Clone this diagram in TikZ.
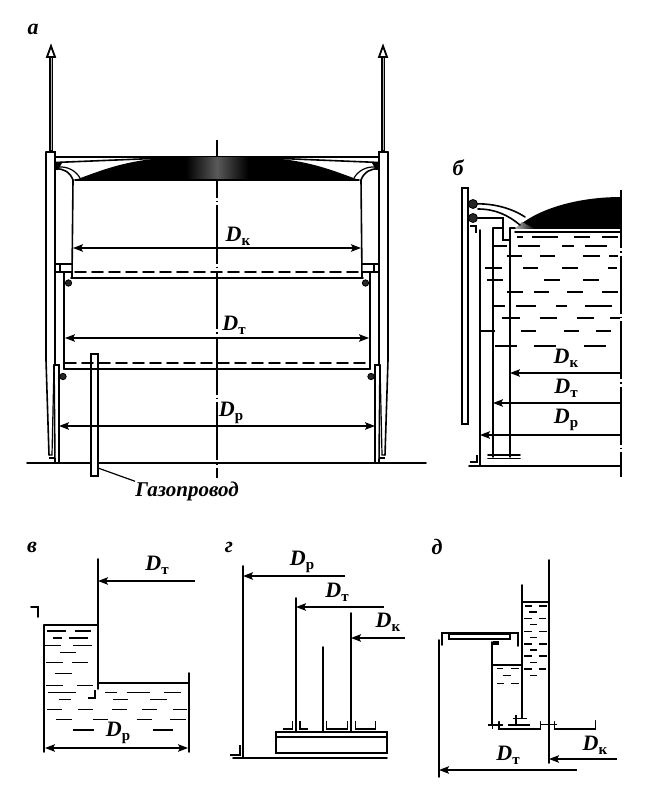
\documentclass[tikz,border=0pt]{standalone}
\usepackage{fontspec}
\setmainfont{Liberation Serif}
\usetikzlibrary{arrows.meta}

\tikzset{
    wall/.style={line width=1.6pt, line cap=round},
    thinwall/.style={line width=1.2pt},
    liquid/.style={line width=1.1pt},
    axisline/.style={line width=1.1pt, dash pattern=on 58pt off 3pt on 1.5pt off 3pt},
    dimline/.style={line width=1.2pt, -{Stealth[length=10pt, width=7.5pt, inset=2pt]}},
    dimboth/.style={line width=1.2pt, {Stealth[length=10pt, width=7.5pt, inset=2pt]}-{Stealth[length=10pt, width=7.5pt, inset=2pt]}},
    dimlabel/.style={inner sep=0pt, font=\fontsize{22}{24}\selectfont\bfseries\itshape},
    panel/.style={inner sep=0pt, font=\fontsize{22}{24}\selectfont\bfseries\itshape},
    roller/.style={fill=black!85, draw=black, line width=0.8pt}
}
\newcommand{\dsub}[1]{D\raisebox{-4pt}{\fontsize{15}{15}\selectfont\upshape\bfseries #1}}

\begin{document}
\begin{tikzpicture}[x=1pt, y=-1pt]
    \useasboundingbox (0,0) rectangle (650,794);

    % a
    \node[panel] (laba) at (33,29) {а};
    \draw[wall] (27,463) -- (426,463);
    \draw[axisline] (217,140) -- (217,478);
    \foreach \side in {1,-1} {
        \begin{scope}[shift={(217,0)}, xscale=\side, shift={(-217,0)}]
            % mast
            \draw[line width=4.4pt] (51,152) -- (51,56);
            \draw[line width=0.8pt, gray!60] (51,150) -- (51,58);
            \draw[line width=1.8pt, fill=white] (47,57) -- (51,46) -- (55,57) -- cycle;
            % column
            \draw[wall] (46,152) -- (55,152) -- (55,365);
            \draw[wall] (46,152) -- (46,360) -- (49,455);
            \draw[thinwall] (54,365) -- (52,455) -- (49,455);
            \draw[wall] (54,365) -- (59,365) -- (59,463);
            \draw[wall] (54,365) -- (55,463);
            \draw[thinwall] (49,458) -- (54,458);
            % dome
            \fill[black] (75,180) .. controls (100,171) and (125,160) .. (170,157.5) -- (217.4,157) -- (217.4,180) -- cycle;
            \draw[wall] (55,157) -- (217.4,157);
            \draw[wall] (55,162.5) -- (165,158);
            \draw[wall] (75,180) -- (217.4,180);
            % top seal
            \draw[thinwall] (57,167) .. controls (68,166) and (76,171) .. (80,178);
            \draw[wall] (55,169) .. controls (63,168) and (70,172) .. (73,180);
            \fill (55,163) -- (62,163) -- (58,170) -- (55,170) -- cycle;
            % bell and middle section
            \draw[wall] (73,180) -- (72,278);
            \draw[wall] (55,264) -- (72,264);
            \draw[wall] (55,272) -- (72,272);
            \draw[thinwall] (60,264) -- (60,272);
            \draw[wall] (64,272) -- (64,369);
            \draw[roller] (68.5,283) circle (3.2);
            \draw[roller] (63,376.5) circle (3.2);
        \end{scope}
    }
    \shade[left color=black, right color=black, middle color=black!65] (186,158) rectangle (248,179);
    \draw[wall] (71,278) -- (363,278);
    \draw[wall, dash pattern=on 11pt off 6pt] (75,272) -- (359,272);
    \draw[wall, fill=white] (91,354) rectangle (98,476);
    \draw[wall] (64,369) -- (370,369);
    \draw[wall, dash pattern=on 11pt off 6pt] (65,363) -- (370,363);
    \draw[dimboth] (73,248) -- (361,248);
    \draw[dimboth] (65,338) -- (369,338);
    \draw[dimboth] (59,426) -- (375,426);
    \node[dimlabel] (dka) at (238,236) {\dsub{к}};
    \node[dimlabel] (dta) at (234,325) {\dsub{т}};
    \node[dimlabel] (dpa) at (231,413) {\dsub{р}};
    \node[inner sep=0pt, font=\fontsize{21}{24}\selectfont\bfseries\itshape] (gas) at (187,491) {Газопровод};
    \coordinate (gasend) at (98,468);
    \draw[thinwall] (gasend) -- (gas.north west);

    % b
    \node[panel] (labb) at (458,168) {б};
    \draw[wall] (462,188) rectangle (468,424);
    \draw[wall] (469,466) -- (621,466);
    \draw[axisline] (621,190) -- (621,477);
    \draw[wall] (480,230) -- (480,466);
    \draw[wall] (493,228) -- (493,457);
    \draw[wall] (510,228) -- (510,457);
    \draw[wall] (488,455) -- (520,455);
    \draw[wall] (488,458.5) -- (520,458.5);
    \draw[thinwall] (470,462) -- (477,462) -- (477,455);
    \draw[thinwall] (470,226) -- (476,226) -- (476,233);
    \fill[black] (515,229) .. controls (535,210) and (575,197) .. (621.5,197) -- (621.5,229) -- cycle;
    \shade[left color=gray!60, right color=black] (515,229) -- (522,222) -- (535,229) -- cycle;
    \draw[wall] (515,232) -- (621,232);
    \draw[wall] (478,218) -- (503,218) -- (503,240) -- (510,240);
    \draw[wall] (493,228) -- (503,228);
    \draw[wall] (473,204) .. controls (490,203) and (510,207) .. (525,217);
    \draw[wall] (478,209) .. controls (495,209) and (508,215) .. (520,225);
    \draw[wall] (510,228) -- (515,228);
    \draw[roller] (473,204) circle (4.5);
    \draw[roller] (473,218) circle (4.5);
    \foreach \y/\a/\b in {237/517/523, 237/532/558, 237/574/590, 237/602/618,
        246/494/507, 246/518/540, 246/562/574, 246/585/607,
        256/507/522, 256/540/555, 256/583/600, 256/609/618,
        268/485/502, 268/523/538, 268/562/578, 268/608/617,
        280/487/503, 280/544/560, 280/583/599,
        292/507/523, 292/534/549, 292/567/583, 292/602/618,
        306/493/505, 306/516/536, 306/556/567, 306/585/612,
        318/502/520, 318/540/557, 318/577/594, 318/610/620,
        331/480/495, 331/521/536, 331/564/579, 331/596/611,
        346/495/517, 346/534/556, 346/584/606}
        \draw[liquid] (\a,\y) -- (\b,\y);
    \draw[dimline] (621,373) -- (510,373);
    \draw[dimline] (621,403) -- (493,403);
    \draw[dimline] (621,435) -- (480,435);
    \node[dimlabel] (dkb) at (566,358) {\dsub{к}};
    \node[dimlabel] (dtb) at (566,388) {\dsub{т}};
    \node[dimlabel] (dpb) at (566,420) {\dsub{р}};

    % v
    \node[panel] (labv) at (32,547) {в};
    \draw[wall] (31,607) -- (38,607) -- (38,617);
    \draw[wall] (44,625) -- (44,752);
    \draw[wall] (98,559) -- (98,689);
    \draw[wall] (44,625) -- (98,625);
    \draw[wall] (98,683) -- (189,683);
    \draw[wall] (189,673) -- (189,752);
    \draw[thinwall] (88,698) -- (95,698) -- (95,690);
    \begin{scope}[shift={(20,530)}, x=0.3333pt, y=-0.3333pt]
        \foreach \y/\a/\b in {303/80/137, 303/165/212, 324/100/127, 324/148/203,
            347/75/122, 347/160/215, 368/120/168, 398/78/128, 398/155/203, 430/105/155,
            467/78/130, 467/170/218, 487/85/168, 487/255/290, 487/320/390, 487/432/483,
            508/118/152, 508/280/325, 508/390/442,
            538/80/127, 538/175/220, 538/277/320, 538/367/412, 538/458/500,
            568/108/155, 568/220/265, 568/350/395, 568/450/497, 600/160/222, 600/400/458}
            \draw[liquid] (\a,\y) -- (\b,\y);
    \end{scope}
    \draw[dimline] (195,581) -- (98,581);
    \draw[dimboth] (45,748) -- (188,748);
    \node[dimlabel] (dtv) at (157,565) {\dsub{т}};
    \node[dimlabel] (dpv) at (118,733) {\dsub{р}};

    % g
    \node[panel] (labg) at (229,547) {г};
    \draw[wall] (243,566) -- (243,758);
    \draw[wall] (296,598) -- (296,732);
    \draw[wall] (323,647) -- (323,732);
    \draw[wall] (351,613) -- (351,732);
    \draw[wall] (276,732) rectangle (387,753);
    \draw[wall] (276,737) -- (387,737);
    \draw[wall] (233,758) -- (387,758);
    \draw[thinwall] (230,755) -- (240,755) -- (240,745);
    \begin{scope}[shift={(210,530)}, x=0.3333pt, y=-0.3333pt]
        \draw[thinwall] (220,597) -- (248,597) -- (248,572);
        \draw[thinwall] (270,572) -- (270,597) -- (295,597);
        \draw[thinwall] (350,572) -- (350,597) -- (412,597) -- (412,572);
        \draw[thinwall] (437,572) -- (437,597) -- (497,597) -- (497,572);
    \end{scope}
    \draw[dimline] (345,576) -- (243,576);
    \draw[dimline] (384,607) -- (296,607);
    \draw[dimline] (405,638) -- (351,638);
    \node[dimlabel] (dpg) at (302,562) {\dsub{р}};
    \node[dimlabel] (dtg) at (337,592) {\dsub{т}};
    \node[dimlabel] (dkg) at (388,622) {\dsub{к}};

    % d
    \node[panel] (labd) at (437,547) {д};
    \draw[wall] (549,560) -- (549,763);
    \draw[wall] (522,585) -- (522,718);
    \draw[wall] (522,602) -- (549,602);
    \draw[wall] (492,642) -- (492,725);
    \draw[wall] (492,665) -- (522,665);
    \draw[wall] (439,640) -- (439,777);
    \draw[wall] (442,645) -- (442,633) -- (518,633) -- (518,646);
    \draw[wall] (449,634) rectangle (510,639);
    \begin{scope}[shift={(420,530)}, x=0.3333pt, y=-0.3333pt]
        \fill (220,332) rectangle (236,346);
        \draw[wall] (237,575) -- (237,597) -- (362,597) -- (362,575);
        \draw[wall] (403,575) -- (403,597) -- (527,597) -- (527,572);
        \draw[thinwall] (205,585) -- (250,585);
        \draw[thinwall] (360,583) -- (412,583);
        \draw[thinwall] (265,585) -- (330,585);
        \draw[thinwall] (278,565) -- (322,565);
        \draw[thinwall] (288,555) -- (288,585);
        \draw[thinwall] (217,572) -- (217,598);
        \foreach \y/\a/\b in {228/315/335, 228/358/380, 246/328/352, 266/313/335, 266/358/378,
            284/330/352, 304/313/335, 304/358/380, 322/330/352, 342/313/335, 342/358/380,
            360/330/352, 378/313/335, 378/358/380, 398/330/352, 417/313/335, 417/358/378,
            437/330/352, 415/230/250, 415/273/297, 437/248/272, 460/232/252, 460/273/297}
            \draw[liquid] (\a,\y) -- (\b,\y);
    \end{scope}
    \draw[dimline] (577,770) -- (439,770);
    \draw[dimline] (617,759) -- (549,759);
    \node[dimlabel] (dtd) at (508,755) {\dsub{т}};
    \node[dimlabel] (dkd) at (595,745) {\dsub{к}};
\end{tikzpicture}
\end{document}
